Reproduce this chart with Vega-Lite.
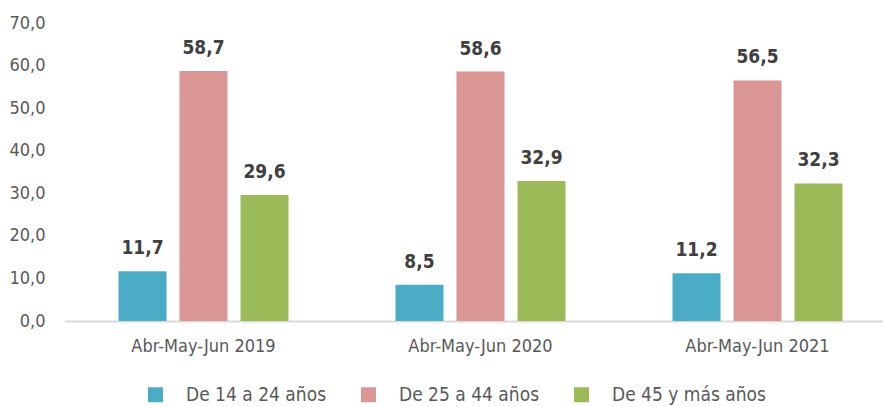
{
  "$schema": "https://vega.github.io/schema/vega-lite/v6.json",
  "width": 818,
  "height": 298,
  "autosize": {"type": "none"},
  "padding": {"left": 65, "top": 23, "right": 0, "bottom": 86},
  "background": "white",
  "config": {
    "view": {"stroke": null},
    "font": "DejaVu Sans Condensed, Liberation Sans, Arial, sans-serif",
    "locale": {"number": {"decimal": ",", "thousands": ".", "grouping": [3], "currency": ["", " €"]}}
  },
  "data": {
    "values": [
      {"periodo": "Abr-May-Jun 2019", "grupo": "De 14 a 24 años", "valor": 11.7},
      {"periodo": "Abr-May-Jun 2019", "grupo": "De 25 a 44 años", "valor": 58.7},
      {"periodo": "Abr-May-Jun 2019", "grupo": "De 45 y más años", "valor": 29.6},
      {"periodo": "Abr-May-Jun 2020", "grupo": "De 14 a 24 años", "valor": 8.5},
      {"periodo": "Abr-May-Jun 2020", "grupo": "De 25 a 44 años", "valor": 58.6},
      {"periodo": "Abr-May-Jun 2020", "grupo": "De 45 y más años", "valor": 32.9},
      {"periodo": "Abr-May-Jun 2021", "grupo": "De 14 a 24 años", "valor": 11.2},
      {"periodo": "Abr-May-Jun 2021", "grupo": "De 25 a 44 años", "valor": 56.5},
      {"periodo": "Abr-May-Jun 2021", "grupo": "De 45 y más años", "valor": 32.3}
    ]
  },
  "encoding": {
    "x": {
      "field": "periodo",
      "type": "nominal",
      "sort": null,
      "scale": {"range": [0, 831], "paddingInner": 0, "paddingOuter": 0},
      "axis": {
        "title": null,
        "labelAngle": 0,
        "labelFontSize": 18,
        "labelColor": "#595959",
        "labelPadding": 16,
        "ticks": false,
        "domainColor": "#D9D9D9",
        "domainWidth": 2,
        "grid": false
      }
    },
    "xOffset": {
      "field": "grupo",
      "type": "nominal",
      "sort": null,
      "scale": {"paddingInner": 0.213, "paddingOuter": 0.877}
    },
    "y": {
      "field": "valor",
      "type": "quantitative",
      "scale": {"domain": [0, 70], "nice": false},
      "axis": {
        "title": null,
        "values": [0, 10, 20, 30, 40, 50, 60, 70],
        "format": ".1f",
        "labelFontSize": 18,
        "labelColor": "#595959",
        "labelPadding": 20,
        "domain": false,
        "ticks": false,
        "grid": false
      }
    }
  },
  "layer": [
    {
      "mark": {"type": "bar"},
      "encoding": {
        "color": {
          "field": "grupo",
          "type": "nominal",
          "sort": null,
          "scale": {
            "domain": ["De 14 a 24 años", "De 25 a 44 años", "De 45 y más años"],
            "range": ["#4BACC6", "#D99694", "#9BBB59"]
          },
          "legend": {
            "title": null,
            "orient": "none",
            "legendX": 81,
            "legendY": 362,
            "direction": "horizontal",
            "symbolType": "square",
            "symbolSize": 225,
            "symbolStrokeWidth": 0,
            "labelFontSize": 19,
            "labelColor": "#595959",
            "labelOffset": 21,
            "labelLimit": 300,
            "columnPadding": 32,
            "padding": 0
          }
        }
      }
    },
    {
      "mark": {"type": "text", "baseline": "bottom", "dy": -13, "fontWeight": "bold", "fontSize": 19, "color": "#404040"},
      "encoding": {
        "text": {"field": "valor", "type": "quantitative", "format": ".1f"}
      }
    }
  ]
}
